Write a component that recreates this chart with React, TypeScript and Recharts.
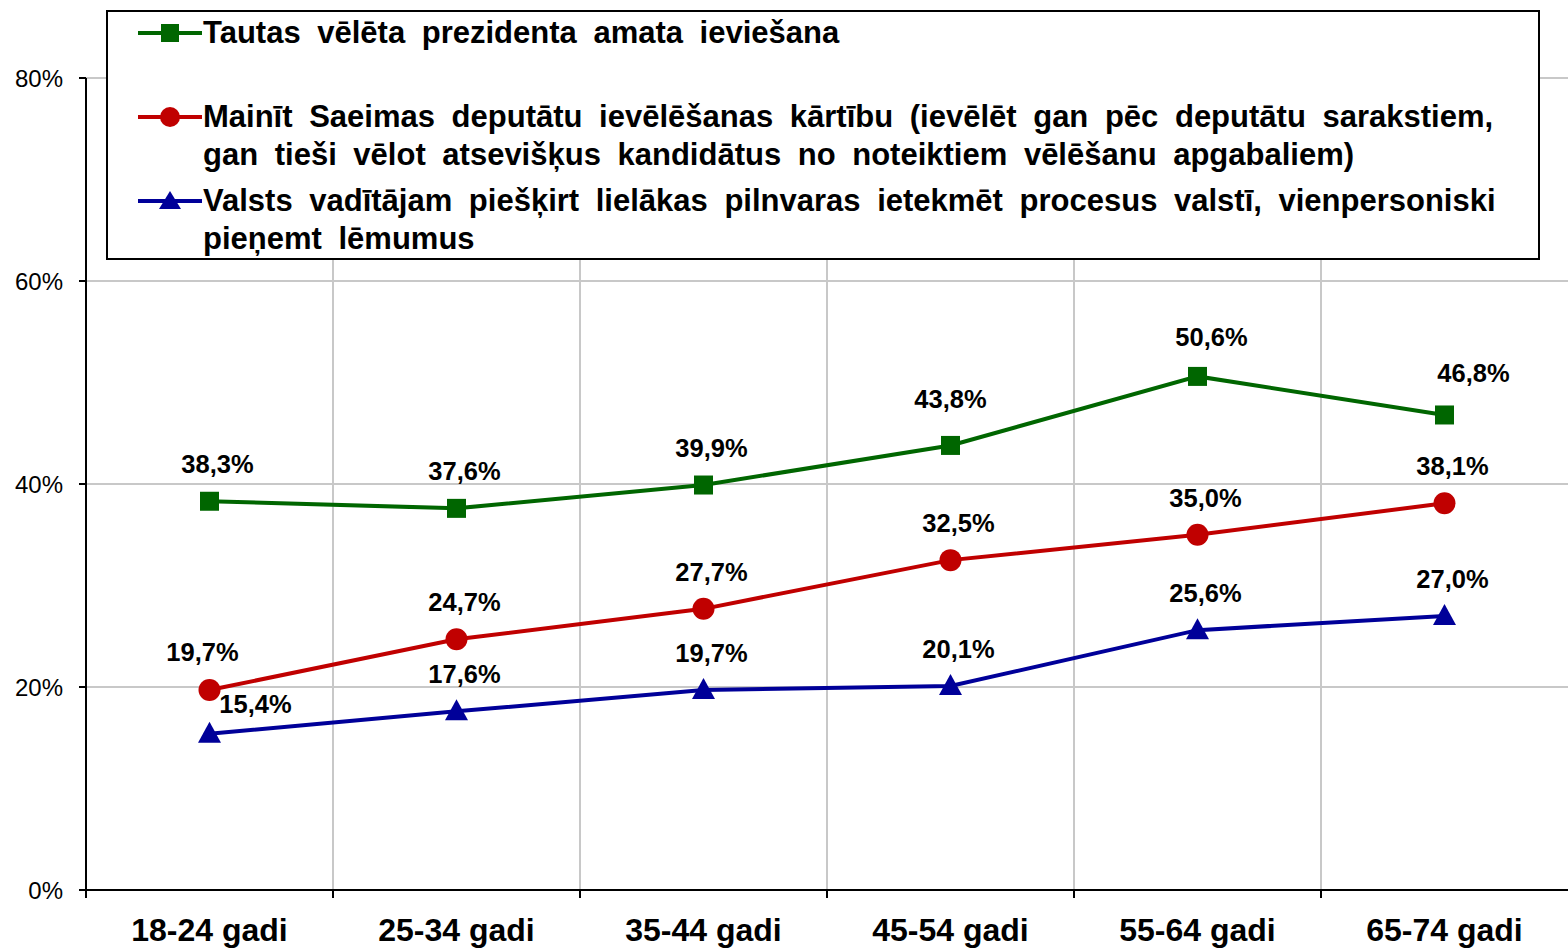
import { LineChart, Line, XAxis, YAxis, CartesianGrid, Legend, LabelList } from "recharts";

const categories = ["18-24 gadi", "25-34 gadi", "35-44 gadi", "45-54 gadi", "55-64 gadi", "65-74 gadi"];
const presidentVals = [38.3, 37.6, 39.9, 43.8, 50.6, 46.8];
const saeimaVals = [19.7, 24.7, 27.7, 32.5, 35.0, 38.1];
const leaderVals = [15.4, 17.6, 19.7, 20.1, 25.6, 27.0];
const yTicks = [0, 20, 40, 60, 80];

const presidentLegend = ["Tautas vēlēta prezidenta amata ieviešana"];
const saeimaLegend = [
  "Mainīt Saeimas deputātu ievēlēšanas kārtību (ievēlēt gan pēc deputātu sarakstiem,",
  "gan tieši vēlot atsevišķus kandidātus no noteiktiem vēlēšanu apgabaliem)",
];
const leaderLegend = [
  "Valsts vadītājam piešķirt lielākas pilnvaras ietekmēt procesus valstī, vienpersoniski",
  "pieņemt lēmumus",
];

const data = categories.map((cat, i) => ({
  cat,
  president: presidentVals[i],
  saeima: saeimaVals[i],
  leader: leaderVals[i],
}));

const W = 1568;
const H = 949;
const LEFT = 86;
const BAND = (W - LEFT) / categories.length;
const FONT = '"Liberation Sans", Arial, sans-serif';

const GREEN = "#006600";
const RED = "#C00000";
const BLUE = "#000099";

// manual label nudges, like the hand-placed labels in the original
const nudge: Record<string, [number, number]> = {
  "president-3": [0, -46],
  "president-4": [14, -39],
  "president-5": [29, -42],
  "leader-0": [46, -30],
  "saeima-0": [-7, -38],
};

const fmt = (v: number) => v.toFixed(1).replace(".", ",") + "%";

const makeLabel = (key: string) => (p: any) => {
  const { x, y, value, index } = p;
  const [dx, dy] = nudge[`${key}-${index}`] || [8, -37];
  return (
    <text
      x={x + dx}
      y={y + dy}
      textAnchor="middle"
      dominantBaseline="central"
      fontSize={25.5}
      fontWeight="bold"
      fill="#000"
    >
      {fmt(value)}
    </text>
  );
};

const SquareDot = (p: any) => {
  if (p.cx == null) return null;
  return <rect key={p.index} x={p.cx - 9.5} y={p.cy - 9.5} width={19} height={19} fill={GREEN} />;
};
const CircleDot = (p: any) => {
  if (p.cx == null) return null;
  return <circle key={p.index} cx={p.cx} cy={p.cy} r={11} fill={RED} />;
};
const TriDot = (p: any) => {
  if (p.cx == null) return null;
  const { cx, cy } = p;
  return (
    <polygon
      key={p.index}
      points={`${cx},${cy - 12} ${cx + 11.5},${cy + 9} ${cx - 11.5},${cy + 9}`}
      fill={BLUE}
    />
  );
};

const XTick = (p: any) => {
  const { x, y, payload } = p;
  const bx = x - BAND / 2;
  return (
    <g>
      <line x1={bx} y1={y} x2={bx} y2={y + 8} stroke="#000" strokeWidth={2} />
      <text x={x} y={y + 51} textAnchor="middle" fontSize={32} fontWeight="bold" fill="#000">
        {payload.value}
      </text>
    </g>
  );
};

const legendItems = [
  { lines: presidentLegend, color: GREEN, shape: "square" },
  { lines: saeimaLegend, color: RED, shape: "circle" },
  { lines: leaderLegend, color: BLUE, shape: "triangle" },
];

const Marker = ({ color, shape }: { color: string; shape: string }) => (
  <svg width={66} height={24} style={{ position: "absolute", left: 29, top: -12 }}>
    <line x1={1} y1={12} x2={65} y2={12} stroke={color} strokeWidth={4} />
    {shape === "square" && <rect x={24} y={3} width={18} height={18} fill={color} />}
    {shape === "circle" && <circle cx={33} cy={12} r={10} fill={color} />}
    {shape === "triangle" && <polygon points="33,2 44,20 22,20" fill={color} />}
  </svg>
);

const renderLegend = () => (
  <div
    style={{
      position: "relative",
      width: 1434,
      height: 250,
      boxSizing: "border-box",
      border: "2px solid #000",
      background: "#fff",
      fontFamily: FONT,
      fontWeight: "bold",
      fontSize: 31,
      color: "#000",
    }}
  >
    {legendItems.map((it, i) =>
      it.lines.map((ln, j) => (
        <div
          key={`${i}-${j}`}
          style={{ position: "absolute", left: 0, top: 21 + 84 * i + 38 * j, width: "100%" }}
        >
          {j === 0 && <Marker color={it.color} shape={it.shape} />}
          <span
            style={{
              position: "absolute",
              left: 95,
              top: 0,
              transform: "translateY(-50%)",
              whiteSpace: "nowrap",
              wordSpacing: 8,
              lineHeight: "36px",
            }}
          >
            {ln}
          </span>
        </div>
      ))
    )}
  </div>
);

export default function App() {
  return (
    <div style={{ width: W, height: H, position: "relative", fontFamily: FONT, background: "#fff" }}>
      <style>{`body{margin:0}`}</style>
      <LineChart width={W} height={H} data={data} margin={{ top: 78, right: 0, left: 0, bottom: 0 }}>
        <CartesianGrid
          stroke="#C8C8C8"
          strokeWidth={2}
          verticalCoordinatesGenerator={({ offset }: any) =>
            categories.slice(1).map((_, i) => offset.left + ((i + 1) * offset.width) / categories.length)
          }
        />
        <XAxis
          dataKey="cat"
          height={59}
          padding={{ left: BAND / 2, right: BAND / 2 }}
          tickSize={0}
          tickMargin={0}
          tickLine={false}
          interval={0}
          axisLine={{ stroke: "#000", strokeWidth: 2 }}
          tick={<XTick />}
        />
        <YAxis
          width={LEFT}
          domain={[0, 80]}
          ticks={yTicks}
          tickSize={7}
          tickMargin={16}
          tickFormatter={(v: number) => `${v}%`}
          tick={{ fontSize: 24, fill: "#000" }}
          tickLine={{ stroke: "#000", strokeWidth: 2 }}
          axisLine={{ stroke: "#000", strokeWidth: 2 }}
        />
        <Legend
          layout="vertical"
          align="center"
          verticalAlign="middle"
          content={renderLegend}
          wrapperStyle={{ position: "absolute", left: 106, top: 10, width: 1434, height: 250 }}
        />
        <Line
          dataKey="president"
          name={presidentLegend.join(" ")}
          stroke={GREEN}
          strokeWidth={4}
          dot={SquareDot}
          activeDot={false}
          isAnimationActive={false}
        >
          <LabelList dataKey="president" content={makeLabel("president")} />
        </Line>
        <Line
          dataKey="saeima"
          name={saeimaLegend.join(" ")}
          stroke={RED}
          strokeWidth={4}
          dot={CircleDot}
          activeDot={false}
          isAnimationActive={false}
        >
          <LabelList dataKey="saeima" content={makeLabel("saeima")} />
        </Line>
        <Line
          dataKey="leader"
          name={leaderLegend.join(" ")}
          stroke={BLUE}
          strokeWidth={4}
          dot={TriDot}
          activeDot={false}
          isAnimationActive={false}
        >
          <LabelList dataKey="leader" content={makeLabel("leader")} />
        </Line>
      </LineChart>
    </div>
  );
}
